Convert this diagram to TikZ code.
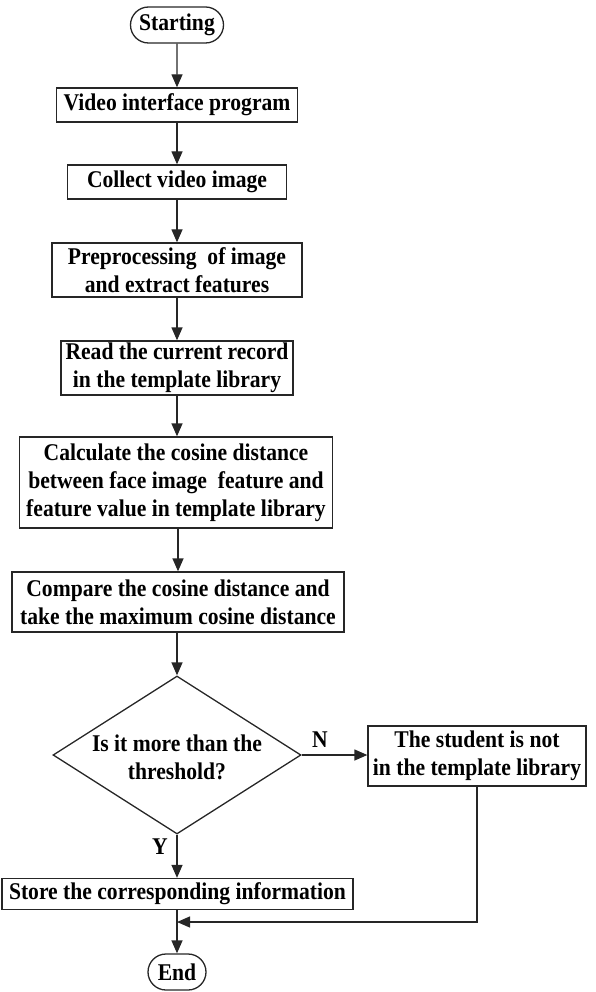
\documentclass[tikz,border=0pt]{standalone}
\usepackage{fontspec}
\setmainfont{Liberation Serif}[FakeStretch=0.9]
\usetikzlibrary{arrows.meta,shapes.geometric,shapes.misc}
\begin{document}
\begin{tikzpicture}[x=1pt,y=-1pt,
  txt/.style={font=\fontsize{24}{28}\selectfont\bfseries, inner sep=0pt, align=center},
  box/.style={txt, draw=black!85, line width=1.3pt},
  term/.style={box, rounded rectangle},
  arr/.style={draw=black!85, line width=1.3pt, -{Triangle[width=11pt,length=13pt]}},
  plain/.style={draw=black!85, line width=1.3pt}]
\useasboundingbox (0,0) rectangle (596,992);
\node[term, minimum width=93pt, minimum height=36pt] (start) at (177,25) {Starting};
\node[box, minimum width=241pt, minimum height=34pt] (video) at (177,105) {Video interface program};
\node[box, minimum width=219pt, minimum height=34pt] (collect) at (177,182) {Collect video image};
\node[box, minimum width=250pt, minimum height=54pt] (prep) at (177,270) {Preprocessing\ \ of image\\and extract features};
\node[box, minimum width=232pt, minimum height=54pt] (read) at (177,368) {Read the current record\\in the template library};
\node[box, minimum width=313pt, minimum height=91pt] (calc) at (176,482.5) {Calculate the cosine distance\\between face image\ \ feature and\\feature value in template library};
\node[box, minimum width=332pt, minimum height=60pt] (comp) at (178,602) {Compare the cosine distance and\\take the maximum cosine distance};
\node[diamond, draw=black!85, line width=1.3pt, minimum width=248pt, minimum height=158pt, inner sep=0pt] (dec) at (177,755) {};
\node[txt] (dectext) at (177,757) {Is it more than the\\threshold?};
\node[box, minimum width=218pt, minimum height=60pt] (stud) at (477,756) {The student is not\\in the template library};
\node[box, minimum width=351pt, minimum height=31pt] (store) at (177.5,894) {Store the corresponding information};
\node[term, minimum width=58pt, minimum height=36pt] (end) at (177,972) {End};
\coordinate (merge) at (177,922);
\node[txt] (nlab) at (320,740) {N};
\node[txt] (ylab) at (160,847) {Y};
\draw[arr] (start) -- (video);
\draw[arr] (video) -- (collect);
\draw[arr] (collect) -- (prep);
\draw[arr] (prep) -- (read);
\draw[arr] (read.south) -- (read.south |- calc.north);
\draw[arr] (calc.south -| comp.north) -- (comp.north);
\draw[arr] (comp.south -| dec.north) -- (dec.north);
\draw[arr] (dec.east) -- (dec.east -| stud.west);
\draw[arr] (dec.south) -- (dec.south |- store.north);
\draw[arr] (store.south -| end.north) -- (end.north);
\draw[arr] (stud.south) |- (merge);
\end{tikzpicture}
\end{document}
